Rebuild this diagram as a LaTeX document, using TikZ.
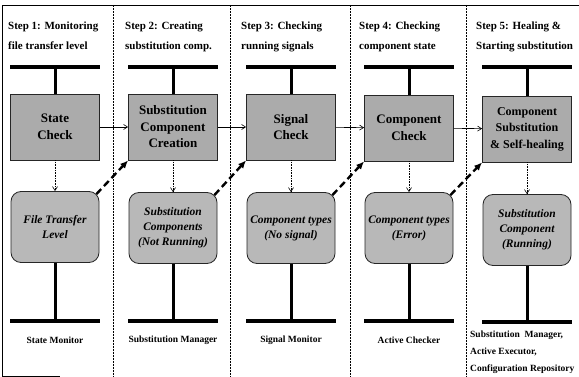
\documentclass[tikz,border=0pt]{standalone}
\usepackage{fontspec}
\setmainfont{Liberation Serif}
\usetikzlibrary{arrows.meta}

\tikzset{
  frame/.style={line width=0.6pt},
  divider/.style={line width=0.5pt, densely dotted},
  title/.style={anchor=north west, align=left, inner sep=0pt, font=\fontsize{11}{20}\selectfont\bfseries},
  stepbox/.style={draw=black!85, fill=black!33, line width=0.8pt, minimum width=89pt, minimum height=66pt, align=center, inner sep=1pt, font=\fontsize{13}{16.5}\selectfont\bfseries},
  databox/.style={draw=black!85, fill=black!28, rounded corners=10pt, line width=0.8pt, minimum width=88pt, minimum height=71pt, align=center, inner sep=1pt, font=\fontsize{11.5}{15}\selectfont\bfseries\itshape},
  bar/.style={line width=4pt},
  stem/.style={line width=3pt},
  flow/.style={-{Straight Barb[length=4pt,width=5pt]}, line width=0.6pt},
  probe/.style={-{Straight Barb[length=4pt,width=5pt]}, line width=0.6pt, densely dotted},
  handoff/.style={-{Latex[length=8pt,width=7pt]}, line width=2.4pt, dash pattern=on 7pt off 4pt},
  role/.style={inner sep=0pt, font=\fontsize{9.5}{17}\selectfont\bfseries}
}

\begin{document}
\begin{tikzpicture}[x=1pt,y=-1pt]
\useasboundingbox (0,0) rectangle (579,377);
\draw[frame] (579,5) -- (2,5) -- (2,376) -- (60,376);
\draw[divider] (113,5) -- (113,377);
\draw[divider] (230,5) -- (230,377);
\draw[divider] (350,5) -- (350,377);
\draw[divider] (466,5) -- (466,377);

\node[title] (h1) at (8,22) {Step 1: Monitoring\\file transfer level};
\node[title] (h2) at (125,22) {Step 2: Creating\\substitution comp.};
\node[title] (h3) at (241,22) {Step 3: Checking\\running signals};
\node[title] (h4) at (359,22) {Step 4: Checking\\component state};
\node[title] (h5) at (476,22) {Step 5: Healing \&\\Starting substitution};

\coordinate (t1) at (55,67);
\coordinate (t2) at (173,67);
\coordinate (t3) at (291,67);
\coordinate (t4) at (409,67);
\coordinate (t5) at (527,67);
\coordinate (b1) at (55,321);
\coordinate (b2) at (173,321);
\coordinate (b3) at (291,321);
\coordinate (b4) at (409,321);
\coordinate (b5) at (527,322);

\node[stepbox] (s1) at (55,127) {State\\Check};
\node[stepbox] (s2) at (173,127) {Substitution\\Component\\Creation};
\node[stepbox] (s3) at (291,127) {Signal\\Check};
\node[stepbox] (s4) at (409,128) {Component\\Check};
\node[stepbox, font=\fontsize{12}{16.5}\selectfont\bfseries] (s5) at (527,129) {Component\\Substitution\\\& Self-healing};

\node[databox] (r1) at (55,227) {File Transfer\\Level};
\node[databox] (r2) at (173,228) {Substitution\\Components\\(Not Running)};
\node[databox] (r3) at (291,228) {Component types\\(No signal)};
\node[databox] (r4) at (409,228) {Component types\\(Error)};
\node[databox] (r5) at (527,230) {Substitution\\Component\\(Running)};

\draw[bar] ([xshift=-45pt]t1) -- ([xshift=45pt]t1);
\draw[bar] ([xshift=-45pt]t2) -- ([xshift=45pt]t2);
\draw[bar] ([xshift=-45pt]t3) -- ([xshift=45pt]t3);
\draw[bar] ([xshift=-45pt]t4) -- ([xshift=45pt]t4);
\draw[bar] ([xshift=-45pt]t5) -- ([xshift=45pt]t5);
\draw[stem] (t1) -- (s1);
\draw[stem] (t2) -- (s2);
\draw[stem] (t3) -- (s3);
\draw[stem] (t4) -- (s4);
\draw[stem] (t5) -- (s5);

\draw[bar] ([xshift=-45pt]b1) -- ([xshift=45pt]b1);
\draw[bar] ([xshift=-45pt]b2) -- ([xshift=45pt]b2);
\draw[bar] ([xshift=-45pt]b3) -- ([xshift=45pt]b3);
\draw[bar] ([xshift=-45pt]b4) -- ([xshift=45pt]b4);
\draw[bar] ([xshift=-45pt]b5) -- ([xshift=45pt]b5);
\draw[stem] (r1) -- (b1);
\draw[stem] (r2) -- (b2);
\draw[stem] (r3) -- (b3);
\draw[stem] (r4) -- (b4);
\draw[stem] (r5) -- (b5);

\draw[flow] (s1) -- (s2);
\draw[flow] (s2) -- (s3);
\draw[flow] (s3) -- (s4);
\draw[flow] (s4) -- (s5);
\draw[probe] (s1) -- (r1);
\draw[probe] (s2) -- (r2);
\draw[probe] (s3) -- (r3);
\draw[probe] (s4) -- (r4);
\draw[probe] (s5) -- (r5);

\draw[handoff] ([shift={(-3,3)}]r1.north east) -- (s2.south west);
\draw[handoff] ([shift={(-3,3)}]r2.north east) -- (s3.south west);
\draw[handoff] ([shift={(-3,3)}]r3.north east) -- (s4.south west);
\draw[handoff] ([shift={(-3,3)}]r4.north east) -- (s5.south west);

\node[role] (m1) at (55,340) {State Monitor};
\node[role] (m2) at (173,340) {Substitution Manager};
\node[role] (m3) at (291,340) {Signal Monitor};
\node[role] (m4) at (409,340) {Active Checker};
\node[role, anchor=north west, align=left] (m5) at (470,331) {Substitution\ \ Manager,\\Active Executor,\\Configuration Repository};
\end{tikzpicture}
\end{document}
